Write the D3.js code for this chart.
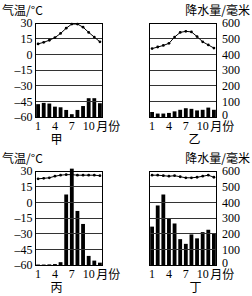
<!DOCTYPE html>
<html>
<head>
<meta charset="utf-8">
<script src="https://cdn.jsdelivr.net/npm/d3@7"></script>
<style>
  body { margin: 0; background: #fff; }
  svg text { font-family: "Liberation Serif", "DejaVu Serif", serif; font-size: 12px; fill: #000; }
  svg text.cjk { font-family: "Noto Sans CJK SC", sans-serif; }
</style>
</head>
<body>
<div id="container"></div>
<script>
/**
 * CONSTANTS AND GLOBALS
 * */
const width = 252,
  height = 296;

const months = [1, 2, 3, 4, 5, 6, 7, 8, 9, 10, 11, 12];
const monthTicks = [1, 4, 7, 10];
const tempTicks = [30, 15, 0, -15, -30, -45, -60];
const precipTicks = [600, 500, 400, 300, 200, 100, 0];

// 甲
const tempJia = [10, 11.5, 13.5, 16, 20, 25, 29, 29, 26, 21, 16.5, 12];
const precipJia = [82, 90, 86, 66, 62, 45, 18, 45, 70, 120, 120, 88];
// 乙
const tempYi = [5.5, 7, 8.5, 10.5, 16.5, 21, 22, 21.5, 17, 12, 9, 6];
const precipYi = [32, 22, 22, 26, 36, 46, 56, 52, 42, 46, 60, 46];
// 丙
const tempBing = [22.5, 23, 23.5, 25, 26, 26.5, 26.5, 26, 26, 26, 26, 25.5];
const precipBing = [3, 3, 4, 6, 18, 450, 615, 345, 262, 58, 28, 15];
// 丁
const tempDing = [26, 26, 25.5, 25, 25.5, 24.5, 23.5, 23.5, 24, 25, 26, 24];
const precipDing = [245, 380, 450, 300, 265, 165, 135, 195, 170, 210, 225, 200];

const panels = [
  { name: "甲", temp: tempJia, precip: precipJia, x0: 35.5, y0: 23, side: "left", nameDx: 21 },
  { name: "乙", temp: tempYi, precip: precipYi, x0: 149.5, y0: 23, side: "right", nameDx: 45 },
  { name: "丙", temp: tempBing, precip: precipBing, x0: 35.5, y0: 171, side: "left", nameDx: 21 },
  { name: "丁", temp: tempDing, precip: precipDing, x0: 149.5, y0: 171, side: "right", nameDx: 46 }
];
const boxW = 67,
  boxH = 94;

const svg = d3.select("#container")
  .append("svg")
  .attr("width", width)
  .attr("height", height);

panels.forEach(drawPanel);

function drawPanel(p) {
  const x1 = p.x0 + boxW,
    y1 = p.y0 + boxH;

  const xScale = d3.scaleBand()
    .domain(months)
    .range([p.x0, x1])
    .paddingInner(0.32)
    .paddingOuter(0.12);
  const tScale = d3.scaleLinear().domain([-60, 30]).range([y1, p.y0]);
  const pScale = d3.scaleLinear().domain([0, 600]).range([y1, p.y0]);

  const g = svg.append("g");

  // bars
  g.selectAll("rect.bar")
    .data(months)
    .join("rect")
    .attr("class", "bar")
    .attr("x", m => xScale(m))
    .attr("y", (m, i) => pScale(p.precip[i]))
    .attr("width", xScale.bandwidth())
    .attr("height", (m, i) => y1 - pScale(p.precip[i]))
    .attr("fill", "#000");

  // gridlines (on top of the bars)
  g.selectAll("line.grid")
    .data(tempTicks)
    .join("line")
    .attr("class", "grid")
    .attr("x1", p.x0)
    .attr("x2", x1)
    .attr("y1", d => Math.floor(tScale(d)) + 0.5)
    .attr("y2", d => Math.floor(tScale(d)) + 0.5)
    .attr("stroke", "#333")
    .attr("stroke-width", 1);

  // frame
  g.append("rect")
    .attr("x", p.x0)
    .attr("y", Math.floor(p.y0) + 0.5)
    .attr("width", boxW)
    .attr("height", Math.floor(y1) - Math.floor(p.y0))
    .attr("fill", "none")
    .attr("stroke", "#000");

  // temperature line
  const line = d3.line()
    .x((d, i) => xScale(months[i]) + xScale.bandwidth() / 2)
    .y(d => tScale(d));
  g.append("path")
    .attr("d", line(p.temp))
    .attr("fill", "none")
    .attr("stroke", "#000")
    .attr("stroke-width", 1);
  g.selectAll("circle.pt")
    .data(p.temp)
    .join("circle")
    .attr("class", "pt")
    .attr("cx", (d, i) => xScale(months[i]) + xScale.bandwidth() / 2)
    .attr("cy", d => tScale(d))
    .attr("r", 1.4)
    .attr("fill", "#000");

  // y axis labels
  if (p.side === "left") {
    g.selectAll("text.tick")
      .data(tempTicks)
      .join("text")
      .attr("class", "tick")
      .attr("x", p.x0 - 3)
      .attr("y", d => tScale(d))
      .attr("dy", "0.35em")
      .attr("text-anchor", "end")
      .text(d => d < 0 ? "\u2013" + Math.abs(d) : d);
    g.append("text")
      .attr("class", "cjk")
      .attr("x", 2)
      .attr("y", p.y0 - 8)
      .text("气温/°C");
  } else {
    g.selectAll("text.tick")
      .data(precipTicks)
      .join("text")
      .attr("class", "tick")
      .attr("x", x1 + 5.5)
      .attr("y", d => pScale(d) - (d === 0 ? 2.5 : 0))
      .attr("dy", "0.35em")
      .attr("text-anchor", "start")
      .text(d => d);
    g.append("text")
      .attr("class", "cjk")
      .attr("x", 250)
      .attr("y", p.y0 - 8)
      .attr("text-anchor", "end")
      .text("降水量/毫米");
  }

  // month labels
  g.selectAll("text.month")
    .data(monthTicks)
    .join("text")
    .attr("class", "month")
    .attr("x", m => xScale(m) + xScale.bandwidth() / 2)
    .attr("y", y1 + 13)
    .attr("text-anchor", "middle")
    .text(m => m);
  g.append("text")
    .attr("class", "cjk")
    .attr("x", xScale(10) + xScale.bandwidth() / 2 + 7.5)
    .attr("y", y1 + 13.5)
    .text("月份");

  // station name
  g.append("text")
    .attr("class", "cjk")
    .attr("x", p.x0 + p.nameDx)
    .attr("y", y1 + 27)
    .attr("text-anchor", "middle")
    .text(p.name);
}
</script>
</body>
</html>
